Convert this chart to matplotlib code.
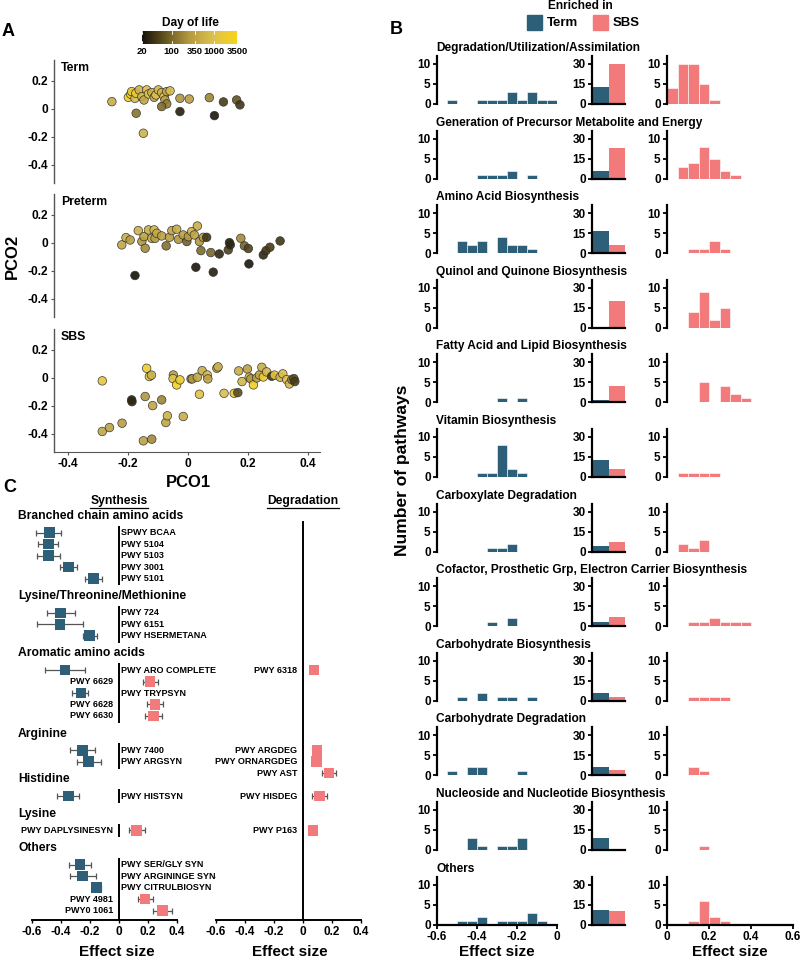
"""Composite figure: PCoA by day of life, pathway histograms, and effect-size forest plot."""

import matplotlib

matplotlib.use("Agg")
import matplotlib.pyplot as plt
import numpy as np
from matplotlib.cm import ScalarMappable
from matplotlib.colors import LinearSegmentedColormap, LogNorm
from matplotlib.lines import Line2D
from matplotlib.patches import Rectangle
from matplotlib.ticker import NullLocator

plt.rcParams["font.family"] = ["Liberation Sans", "DejaVu Sans"]
plt.rcParams["font.weight"] = "bold"
plt.rcParams["axes.unicode_minus"] = False

W, H = 800, 959
TERM_C = "#2d5f78"
SBS_C = "#f27a7a"

# ---------------- panel A: PCoA coloured by day of life ----------------
TERM_X = [-0.254, -0.199, -0.191, -0.188, -0.177, -0.174, -0.163, -0.154, -0.147, -0.138, -0.132,
          -0.121, -0.113, -0.107, -0.099, -0.088, -0.080, -0.071, -0.060, -0.077, -0.071, -0.088,
          -0.027, -0.027, 0.004, 0.071, 0.088, 0.118, 0.162, 0.173, -0.173, -0.149]
TERM_Y = [0.052, 0.083, 0.105, 0.124, 0.076, 0.112, 0.136, 0.088, 0.064, 0.136, 0.107,
          0.117, 0.083, 0.100, 0.136, 0.117, 0.088, 0.124, 0.129, 0.064, 0.036, 0.017,
          0.076, -0.019, 0.071, 0.081, -0.048, 0.050, 0.064, 0.029, -0.031, -0.174]
TERM_DAY = [500, 2500, 3000, 1500, 800, 2000, 600, 700, 400, 900, 1200,
            500, 350, 1000, 700, 600, 1500, 400, 800, 300, 150, 110,
            250, 25, 300, 180, 22, 45, 70, 40, 130, 600]

PRETERM_X = [-0.221, -0.207, -0.193, -0.166, -0.154, -0.147, -0.143, -0.132, -0.121, -0.113, -0.110,
             -0.104, -0.088, -0.073, -0.062, -0.054, -0.038, -0.032, -0.016, -0.004, 0.001, 0.012,
             0.021, 0.031, 0.038, 0.043, 0.051, 0.062, 0.076, 0.104, 0.134, 0.138, 0.141, 0.176,
             0.188, 0.201, 0.251, 0.260, 0.273, 0.307, -0.177, 0.026, 0.084, 0.203]
PRETERM_Y = [-0.014, 0.038, 0.021, 0.088, 0.010, 0.045, -0.038, 0.093, 0.033, 0.093, 0.033,
             0.069, 0.050, -0.021, 0.040, 0.088, 0.098, 0.026, 0.057, 0.010, 0.045, 0.081,
             0.057, 0.121, 0.010, -0.055, 0.040, 0.040, -0.069, -0.079, -0.050, 0.002, -0.014, 0.033,
             -0.021, -0.040, -0.086, -0.055, -0.031, 0.014, -0.233, -0.174, -0.209, -0.150]
PRETERM_DAY = [400, 500, 300, 600, 250, 350, 200, 500, 400, 700, 300,
               450, 350, 120, 300, 400, 500, 250, 350, 90, 300, 600,
               400, 500, 250, 110, 300, 40, 100, 30, 50, 25, 30, 200,
               90, 50, 30, 40, 45, 40, 20, 22, 25, 22]

SBS_X = [-0.286, -0.286, -0.262, -0.220, -0.188, -0.187, -0.143, -0.138, -0.129, -0.122, -0.118,
         -0.149, -0.121, -0.088, -0.074, -0.069, -0.049, -0.050, -0.038, -0.027, -0.016, 0.010,
         0.014, 0.031, 0.038, 0.047, 0.064, 0.066, 0.096, 0.100, 0.120, 0.154, 0.166, 0.169,
         0.180, 0.198, 0.204, 0.209, 0.218, 0.229, 0.238, 0.246, 0.251, 0.262, 0.279, 0.288,
         0.307, 0.316, 0.329, 0.338, 0.346, 0.353, 0.356]
SBS_Y = [-0.021, -0.383, -0.355, -0.324, -0.157, -0.170, -0.133, 0.069, 0.010, 0.020, -0.198,
         -0.450, -0.438, -0.157, -0.319, -0.271, 0.021, -0.005, -0.050, -0.014, -0.276, -0.007,
         -0.007, 0.005, -0.117, 0.052, 0.021, -0.007, 0.069, 0.079, -0.110, -0.110, -0.105, 0.050,
         -0.026, 0.064, 0.005, -0.007, -0.050, 0.000, 0.021, 0.076, 0.007, 0.043, 0.012, 0.020,
         0.005, 0.029, -0.012, -0.043, -0.012, -0.005, -0.026]
SBS_DAY = [1500, 400, 350, 300, 25, 30, 250, 2000, 1500, 600, 400,
           350, 200, 180, 400, 600, 300, 1200, 3000, 2000, 500, 200,
           250, 400, 1200, 500, 800, 350, 400, 600, 900, 1500, 60, 500,
           700, 350, 1000, 250, 2500, 300, 400, 500, 2000, 800, 40, 1500,
           600, 900, 1200, 700, 150, 60, 45]

DAY_TICKS = [20, 100, 350, 1000, 3500]
PCO_TICKS = [-0.4, -0.2, 0, 0.2, 0.4]

# ---------------- panel B: pathway effect-size histograms ----------------
CATEGORIES = [
    "Degradation/Utilization/Assimilation",
    "Generation of Precursor Metabolite and Energy",
    "Amino Acid Biosynthesis",
    "Quinol and Quinone Biosynthesis",
    "Fatty Acid and Lipid Biosynthesis",
    "Vitamin Biosynthesis",
    "Carboxylate Degradation",
    "Cofactor, Prosthetic Grp, Electron Carrier Biosynthesis",
    "Carbohydrate Biosynthesis",
    "Carbohydrate Degradation",
    "Nucleoside and Nucleotide Biosynthesis",
    "Others",
]
TERM_BIN_LEFT = [-0.60, -0.55, -0.50, -0.45, -0.40, -0.35, -0.30, -0.25, -0.20, -0.15, -0.10, -0.05]
SBS_BIN_LEFT = [0.00, 0.05, 0.10, 0.15, 0.20, 0.25, 0.30, 0.35, 0.40, 0.45, 0.50, 0.55]
BIN_WIDTH = 0.05
TERM_HIST = [
    [0, 1, 0, 0, 1, 1, 1, 3, 1, 3, 1, 1],
    [0, 0, 0, 0, 1, 1, 1, 2, 0, 1, 0, 0],
    [0, 0, 3, 2, 3, 0, 4, 2, 2, 1, 0, 0],
    [0, 0, 0, 0, 0, 0, 0, 0, 0, 0, 0, 0],
    [0, 0, 0, 0, 0, 0, 1, 0, 1, 0, 0, 0],
    [0, 0, 0, 0, 1, 1, 8, 2, 1, 0, 0, 0],
    [0, 0, 0, 0, 0, 1, 1, 2, 0, 0, 0, 0],
    [0, 0, 0, 0, 0, 1, 0, 2, 0, 0, 0, 0],
    [0, 0, 1, 0, 2, 0, 1, 1, 0, 1, 0, 0],
    [0, 1, 0, 2, 2, 0, 0, 0, 1, 0, 0, 0],
    [0, 0, 0, 3, 1, 0, 1, 1, 3, 0, 0, 0],
    [0, 0, 1, 1, 2, 0, 1, 1, 1, 3, 1, 0],
]
SBS_HIST = [
    [4, 10, 10, 5, 1, 0, 0, 0, 0, 0, 0, 0],
    [0, 3, 4, 8, 5, 2, 1, 0, 0, 0, 0, 0],
    [0, 0, 1, 1, 3, 1, 0, 0, 0, 0, 0, 0],
    [0, 0, 4, 9, 2, 5, 0, 0, 0, 0, 0, 0],
    [0, 0, 0, 5, 0, 4, 2, 1, 0, 0, 0, 0],
    [0, 1, 1, 1, 1, 0, 0, 0, 0, 0, 0, 0],
    [0, 2, 1, 3, 0, 0, 0, 0, 0, 0, 0, 0],
    [0, 0, 1, 1, 2, 1, 1, 1, 0, 0, 0, 0],
    [0, 0, 1, 1, 1, 1, 0, 0, 0, 0, 0, 0],
    [0, 0, 2, 1, 0, 0, 0, 0, 0, 0, 0, 0],
    [0, 0, 0, 1, 0, 0, 0, 0, 0, 0, 0, 0],
    [0, 0, 1, 6, 2, 1, 0, 0, 0, 0, 0, 0],
]
TERM_TOTAL = [13, 6, 17, 0, 2, 13, 4, 3, 6, 6, 9, 11]
SBS_TOTAL = [30, 23, 6, 20, 12, 6, 7, 7, 3, 4, 1, 10]

# ---------------- panel C: forest plot ----------------
GROUPS = ["Branched chain amino acids", "Lysine/Threonine/Methionine", "Aromatic amino acids",
          "Arginine", "Histidine", "Lysine", "Others"]
SYN_GROUP = [0, 0, 0, 0, 0, 1, 1, 1, 2, 2, 2, 2, 2, 3, 3, 4, 5, 6, 6, 6, 6, 6]
SYN_NAME = ["SPWY BCAA", "PWY 5104", "PWY 5103", "PWY 3001", "PWY 5101",
            "PWY 724", "PWY 6151", "PWY HSERMETANA",
            "PWY ARO COMPLETE", "PWY 6629", "PWY TRYPSYN", "PWY 6628", "PWY 6630",
            "PWY 7400", "PWY ARGSYN", "PWY HISTSYN", "PWY DAPLYSINESYN",
            "PWY SER/GLY SYN", "PWY ARGININGE SYN4", "PWY CITRULBIOSYN", "PWY 4981", "PWY0 1061"]
SYN_EFFECT = [-0.48, -0.487, -0.487, -0.35, -0.177, -0.402, -0.407, -0.205,
              -0.372, 0.214, -0.262, 0.248, 0.237, -0.25, -0.211, -0.35, 0.122,
              -0.269, -0.25, -0.154, 0.179, 0.301]
SYN_LOW = [-0.57, -0.556, -0.567, -0.41, -0.234, -0.50, -0.563, -0.246,
           -0.51, 0.163, -0.326, 0.191, 0.179, -0.338, -0.287, -0.425, 0.071,
           -0.343, -0.338, -0.181, 0.133, 0.237]
SYN_HIGH = [-0.40, -0.419, -0.41, -0.29, -0.12, -0.303, -0.246, -0.15,
            -0.234, 0.271, -0.211, 0.306, 0.294, -0.166, -0.126, -0.273, 0.179,
            -0.195, -0.16, -0.126, 0.237, 0.363]

DEG_GROUP = [2, 3, 3, 3, 4, 5]
DEG_NAME = ["PWY 6318", "PWY ARGDEG", "PWY ORNARGDEG", "PWY AST", "PWY HISDEG", "PWY P163"]
DEG_EFFECT = [0.076, 0.097, 0.095, 0.179, 0.115, 0.069]
DEG_LOW = [0.066, 0.080, 0.080, 0.134, 0.065, 0.060]
DEG_HIGH = [0.086, 0.114, 0.110, 0.226, 0.166, 0.078]

EFFECT_TICKS = [-0.6, -0.4, -0.2, 0, 0.2, 0.4]


def _fmt(v):
    return "0" if v == 0 else f"{v:g}"


def _px_axes(fig, x0, y0, x1, y1):
    return fig.add_axes([x0 / W, 1 - y1 / H, (x1 - x0) / W, (y1 - y0) / H])


def _fig_text(fig, x, y, s, **kw):
    return fig.text(x / W, 1 - y / H, s, **kw)


def _panel_a(fig):
    cmap = LinearSegmentedColormap.from_list(
        "day", ["#15120a", "#665520", "#b49a40", "#dcc050", "#f7d418"])
    norm = LogNorm(20, 3500)
    panels = [
        ("Term", TERM_X, TERM_Y, TERM_DAY, 60),
        ("Preterm", PRETERM_X, PRETERM_Y, PRETERM_DAY, 194),
        ("SBS", SBS_X, SBS_Y, SBS_DAY, 329),
    ]
    for name, xs, ys, days, top in panels:
        ax = _px_axes(fig, 54, top, 320, top + 123)
        ax.scatter(xs, ys, c=days, cmap=cmap, norm=norm, s=38,
                   edgecolor="#2a2a2a", linewidth=0.5, alpha=0.9, zorder=3)
        ax.set_xlim(-0.447, 0.44)
        ax.set_ylim(-0.53, 0.35)
        ax.set_yticks([0.2, 0, -0.2, -0.4], [_fmt(v) for v in [0.2, 0, -0.2, -0.4]])
        for side in ("top", "right"):
            ax.spines[side].set_visible(False)
        ax.spines["left"].set_color("#555555")
        ax.spines["left"].set_linewidth(1.0)
        ax.tick_params(axis="y", labelsize=8.6, length=2.5, color="#555555", pad=2)
        if name == "SBS":
            ax.spines["bottom"].set_color("#555555")
            ax.set_xticks(PCO_TICKS, [_fmt(v) for v in PCO_TICKS])
            ax.tick_params(axis="x", labelsize=8.6, length=2.5, color="#555555", pad=2)
        else:
            ax.spines["bottom"].set_visible(False)
            ax.set_xticks([])
        ax.text(0.025, 0.985, name, transform=ax.transAxes, fontsize=8.8,
                fontweight="bold", va="top", ha="left")

    cax = _px_axes(fig, 142, 31, 237, 44)
    cb = fig.colorbar(ScalarMappable(norm=norm, cmap=cmap), cax=cax, orientation="horizontal")
    cb.outline.set_visible(False)
    cb.set_ticks(DAY_TICKS)
    cb.set_ticklabels([str(v) for v in DAY_TICKS])
    cax.xaxis.set_minor_locator(NullLocator())
    cax.tick_params(axis="x", length=0, labelsize=6.8, pad=2)
    for t in DAY_TICKS:
        cax.axvline(t, ymin=0, ymax=0.2, color="white", lw=0.6)
        cax.axvline(t, ymin=0.8, ymax=1, color="white", lw=0.6)
    _fig_text(fig, 190, 23, "Day of life", ha="center", va="center", fontsize=8.6)

    _fig_text(fig, 12, 256, "PCO2", rotation=90, ha="center", va="center", fontsize=12)
    _fig_text(fig, 188, 482, "PCO1", ha="center", va="center", fontsize=12)
    _fig_text(fig, 8, 31, "A", ha="center", va="center", fontsize=13)


def _style_hist_axis(ax, yticks):
    for side in ("top", "right", "bottom"):
        ax.spines[side].set_visible(False)
    ax.spines["left"].set_linewidth(1.6)
    ax.set_yticks(yticks, [str(v) for v in yticks])
    ax.tick_params(axis="y", labelsize=8.5, length=3, width=1.3, pad=1.5)
    ax.set_xticks([])


def _panel_b(fig):
    pitch = 74.6
    for i, cat in enumerate(CATEGORIES):
        ty = 48 + i * pitch
        _fig_text(fig, 436, ty, cat, ha="left", va="center", fontsize=8.6)
        top, bot = ty + 8, ty + 56

        a1 = _px_axes(fig, 437, top, 557, bot)
        a1.bar(TERM_BIN_LEFT, TERM_HIST[i], width=BIN_WIDTH, align="edge",
               color=TERM_C, edgecolor="white", linewidth=0.4)
        a1.set_xlim(-0.6, 0.0)
        a1.set_ylim(0, 12)
        _style_hist_axis(a1, [0, 5, 10])

        a2 = _px_axes(fig, 592, top, 625, bot)
        a2.bar([0, 1], [TERM_TOTAL[i], SBS_TOTAL[i]], width=1.0, color=[TERM_C, SBS_C])
        a2.set_xlim(-0.5, 1.5)
        a2.set_ylim(0, 36)
        _style_hist_axis(a2, [0, 15, 30])
        a2.spines["bottom"].set_visible(True)
        a2.spines["bottom"].set_linewidth(1.6)

        a3 = _px_axes(fig, 667, top, 793, bot)
        a3.bar(SBS_BIN_LEFT, SBS_HIST[i], width=BIN_WIDTH, align="edge",
               color=SBS_C, edgecolor="white", linewidth=0.4)
        a3.set_xlim(0.0, 0.6)
        a3.set_ylim(0, 12)
        _style_hist_axis(a3, [0, 5, 10])

        if i == len(CATEGORIES) - 1:
            for ax, ticks in ((a1, [-0.6, -0.4, -0.2, 0]), (a3, [0, 0.2, 0.4, 0.6])):
                ax.spines["bottom"].set_visible(True)
                ax.spines["bottom"].set_linewidth(1.6)
                ax.set_xticks(ticks, [_fmt(v) for v in ticks])
                ax.tick_params(axis="x", labelsize=8.5, length=3, width=1.3, pad=1.5)

    _fig_text(fig, 497, 952, "Effect size", ha="center", va="center", fontsize=11)
    _fig_text(fig, 730, 952, "Effect size", ha="center", va="center", fontsize=11)
    _fig_text(fig, 403, 470, "Number of pathways", rotation=90, ha="center", va="center",
              fontsize=12.5)

    # legend
    _fig_text(fig, 580, 6, "Enriched in", ha="center", va="center", fontsize=8.6)
    for x, color, label in ((527, TERM_C, "Term"), (593, SBS_C, "SBS")):
        fig.add_artist(Rectangle((x / W, 1 - 30 / H), 15 / W, 15 / H,
                                 transform=fig.transFigure, color=color))
        _fig_text(fig, x + 20, 22.5, label, ha="left", va="center", fontsize=9.5)
    _fig_text(fig, 396, 29, "B", ha="center", va="center", fontsize=13)


def _group_slots():
    starts, cur = [], 0
    for g in range(len(GROUPS)):
        starts.append(cur)
        cur += SYN_GROUP.count(g) + 2
    return starts


def _forest(ax, groups, names, effect, low, high, starts):
    counter = {}
    ys = []
    for g in groups:
        ys.append(starts[g] + counter.get(g, 0))
        counter[g] = counter.get(g, 0) + 1
    effect = np.asarray(effect)
    ax.errorbar(effect, ys, xerr=[effect - np.asarray(low), np.asarray(high) - effect],
                fmt="none", ecolor="#555555", elinewidth=0.9, capsize=2.2, capthick=0.9, zorder=2)
    colors = [TERM_C if v < 0 else SBS_C for v in effect]
    ax.scatter(effect, ys, marker="s", s=58, c=colors, zorder=3, linewidth=0)
    for v, y, name in zip(effect, ys, names):
        if v < 0:
            ax.text(0.014, y, name, ha="left", va="center", fontsize=6.5)
        else:
            ax.text(-0.04, y, name, ha="right", va="center", fontsize=6.5)


def _panel_c(fig):
    slot, row0 = 11.45, 532.7
    top_px, bot_px = 505, 920
    starts = _group_slots()
    ylim = ((bot_px - row0) / slot, (top_px - row0) / slot)

    left = _px_axes(fig, 32, top_px, 177, bot_px)
    right = _px_axes(fig, 216, top_px, 361, bot_px)
    for ax in (left, right):
        ax.set_xlim(-0.6, 0.4)
        ax.set_ylim(*ylim)
        for side in ("top", "right", "left"):
            ax.spines[side].set_visible(False)
        ax.spines["bottom"].set_linewidth(1.4)
        ax.set_yticks([])
        ax.set_xticks(EFFECT_TICKS, [_fmt(v) for v in EFFECT_TICKS])
        ax.tick_params(axis="x", labelsize=8.5, length=2, width=1.0, pad=2)

    for g, name in enumerate(GROUPS):
        n = SYN_GROUP.count(g)
        y0 = starts[g] - 0.6
        y1 = ylim[0] if g == len(GROUPS) - 1 else starts[g] + n - 1 + 0.6
        left.plot([0, 0], [y0, y1], color="black", lw=1.4, solid_capstyle="butt")
        left.text(-0.6 + (18 - 32) / 145, starts[g] - 1.45, name, ha="left", va="center",
                  fontsize=8.7, clip_on=False)
    right.plot([0, 0], [ylim[0], (522 - row0) / slot], color="black", lw=1.4)

    _forest(left, SYN_GROUP, SYN_NAME, SYN_EFFECT, SYN_LOW, SYN_HIGH, starts)
    _forest(right, DEG_GROUP, DEG_NAME, DEG_EFFECT, DEG_LOW, DEG_HIGH, starts)

    renderer = fig.canvas.get_renderer()
    for x, label in ((119, "Synthesis"), (303, "Degradation")):
        t = _fig_text(fig, x, 501, label, ha="center", va="center", fontsize=8.7)
        bb = t.get_window_extent(renderer=renderer).transformed(fig.transFigure.inverted())
        yline = bb.y0 - 1.2 / H
        fig.add_artist(Line2D([bb.x0, bb.x1], [yline, yline], transform=fig.transFigure,
                              color="black", lw=0.9))

    _fig_text(fig, 117, 952, "Effect size", ha="center", va="center", fontsize=11)
    _fig_text(fig, 290, 952, "Effect size", ha="center", va="center", fontsize=11)
    _fig_text(fig, 10, 487, "C", ha="center", va="center", fontsize=13)


def main():
    fig = plt.figure(figsize=(W / 100, H / 100), dpi=100)
    _panel_a(fig)
    _panel_b(fig)
    _panel_c(fig)
    fig.savefig("out.png", dpi=100)
    plt.close(fig)


if __name__ == "__main__":
    main()
